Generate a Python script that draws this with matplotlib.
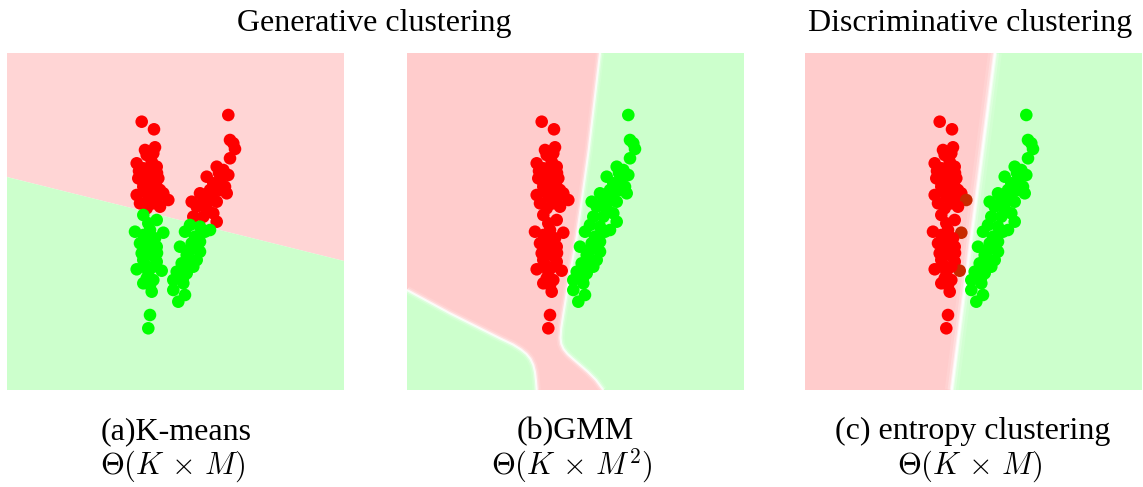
import matplotlib
matplotlib.use("Agg")
import matplotlib.pyplot as plt

plt.rcParams['mathtext.fontset'] = 'cm'

# ---------------- data (panel pixel units, y downward) ----------------
# left cluster, upper part
lu_x = [134.7, 147, 148, 138, 139.7, 146.3, 129.7, 149.7, 136.3, 143, 131.3, 151.3, 139.7,
        146.3, 136.3, 153, 129.7, 143, 156.3, 149.7, 161.3, 133, 146.3, 153, 139.7, 141.3,
        134.7, 144.7, 149.7, 145, 138, 150, 132]
lu_y = [68.7, 76.3, 94.3, 97, 102, 100.3, 110.3, 113.7, 115.3, 120.3, 125.3, 125.3, 128.7,
        130.3, 133.7, 137, 142, 140.3, 140.3, 145.3, 147, 150.3, 150.3, 153.7, 155.3, 143.7,
        127, 108.7, 133.7, 118, 138, 120, 118]
# left cluster, lower part
ll_x = [136.3, 149.7, 141.3, 128, 156.3, 136.3, 148, 133, 149.7, 139.7, 144.7, 136.3, 149.7,
        129.7, 154.7, 141.3, 139.7, 146.3, 136.3, 144.7, 143, 141.3, 143, 144.7, 134.7, 146.3, 143,
        140, 146, 138, 150]
ll_y = [162, 167, 170.3, 178.7, 179.7, 182, 185.3, 190.3, 193.7, 197, 202, 207, 208.7,
        216.3, 217.7, 218.7, 225.3, 227, 230.3, 238.7, 262, 275.3, 177, 188.7, 200.3, 213.7, 232,
        185, 195, 212, 200]
# right cluster, upper part
ru_x = [221.3, 223, 226.3, 228, 223, 209.7, 216.3, 221.3, 199.7, 213, 206.3, 218, 219.7, 193,
        203, 184.7, 196.3, 209.7, 189.7, 199.7, 206.3, 186.3, 196.3, 209.7, 204.7, 213,
        212, 205, 200]
ru_y = [62, 87, 90.3, 96, 105.3, 113.7, 117, 122, 123.7, 127, 130.3, 133.7, 140.3, 140.3,
        137, 148.7, 147, 148.7, 153.7, 155.3, 160.3, 163.7, 163.7, 168.7, 143.7, 137,
        120, 145, 150]
# right cluster, lower part
rl_x = [183, 193, 203, 178, 188, 193, 173, 183, 193, 179.7, 189.7, 174.7, 186.3, 169.7,
        179.7, 166.3, 176.3, 166.3, 178, 171.3, 198, 184.7, 180, 190, 176]
rl_y = [172, 173.7, 177, 178.7, 183.7, 188.7, 193.7, 197, 198.7, 202, 207, 210.3, 213.7, 218.7,
        220.3, 227, 230.3, 237, 242, 248.7, 178.7, 190.3, 210, 195, 225]

# cluster labels per method: 0 = red, 1 = green, 2 = uncertain (mixed)
kmeans_labels = {"lu": [0] * 33, "ll": [1] * 31, "ru": [0] * 29, "rl": [1] * 25}
gmm_labels = {"lu": [0] * 33, "ll": [0] * 31, "ru": [1] * 29, "rl": [1] * 25}
entropy_labels = {"lu": [0] * 20 + [2] + [0] * 12,
                  "ll": [0] * 4 + [2] + [0] * 9 + [2] + [0] * 16,
                  "ru": [1] * 29, "rl": [1] * 25}

# decision-region boundaries (panel pixel units)
km_bound_y = [124, 208]
gmm_main_x = [193, 181.7, 169.7, 161.3, 156.5, 154.2, 153.5, 154.3, 156.5, 160.5, 166, 173, 181, 189, 196.3]
gmm_main_y = [0, 97, 183.7, 230.3, 260, 275, 285, 291, 296, 301, 306, 312, 319, 327, 337]
gmm_left_x = [0, 43, 93, 106, 114, 119.5, 123.5, 126.3, 128, 129, 129.7]
gmm_left_y = [237, 260.3, 285.3, 291.5, 296.5, 301, 306, 312, 319, 328, 337]
ent_bound_x = [190, 146.7]
ent_bound_y = [0, 337]

titles_top = ["Generative clustering", "Discriminative clustering"]
captions = ["(a)K-means", "(b)GMM", "(c) entropy clustering"]
complexities = [r"$\Theta(K\,\times\,M)$", r"$\Theta(K\,\times\,M^2)$", r"$\Theta(K\,\times\,M)$"]

# ---------------- styling ----------------
W, H = 1143, 487
PINK_A = "#ffd5d5"
PINK = "#ffcccc"
GREEN = "#ccffcc"
COLS = {0: "#ff0000", 1: "#00ff00", 2: "#c82a00"}
S = 82
SIZE = 337

fig = plt.figure(figsize=(W / 100, H / 100), dpi=100)
lefts = [7, 407, 805]
axes = []
for l in lefts:
    ax = fig.add_axes([l / W, (H - 390) / H, SIZE / W, SIZE / H])
    ax.set_xlim(0, SIZE)
    ax.set_ylim(SIZE, 0)
    ax.axis("off")
    axes.append(ax)

groups = {"lu": (lu_x, lu_y), "ll": (ll_x, ll_y), "ru": (ru_x, ru_y), "rl": (rl_x, rl_y)}

def scatter(ax, labels):
    xs, ys, cs = [], [], []
    for g in ["lu", "ll", "ru", "rl"]:
        gx, gy = groups[g]
        xs += gx
        ys += gy
        cs += [COLS[k] for k in labels[g]]
    ax.scatter(xs, ys, s=S, c=cs, linewidths=0, zorder=5)

# (a) K-means
ax = axes[0]
ax.fill([0, SIZE, SIZE, 0], [0, 0, km_bound_y[1], km_bound_y[0]], color=PINK_A, lw=0)
ax.fill([0, SIZE, SIZE, 0], [km_bound_y[0], km_bound_y[1], SIZE, SIZE], color=GREEN, lw=0)
scatter(ax, kmeans_labels)

# (b) GMM
ax = axes[1]
ax.fill([0, SIZE, SIZE, 0], [0, 0, SIZE, SIZE], color=PINK, lw=0)
ax.fill(gmm_main_x + [SIZE, SIZE], gmm_main_y + [SIZE, 0], color=GREEN, lw=0)
ax.fill(gmm_left_x + [0], gmm_left_y + [SIZE], color=GREEN, lw=0)
for lw, a in [(6, 0.12), (3.5, 0.3), (1.5, 0.8)]:
    ax.plot(gmm_main_x, gmm_main_y, color="white", lw=lw, alpha=a, solid_capstyle="butt")
    ax.plot(gmm_left_x, gmm_left_y, color="white", lw=lw, alpha=a, solid_capstyle="butt")
scatter(ax, gmm_labels)

# (c) entropy clustering
ax = axes[2]
ax.fill([0, SIZE, SIZE, 0], [0, 0, SIZE, SIZE], color=PINK, lw=0)
ax.fill(ent_bound_x + [SIZE, SIZE], ent_bound_y + [SIZE, 0], color=GREEN, lw=0)
for lw, a in [(10, 0.12), (6, 0.25), (3, 0.5), (1.5, 0.9)]:
    ax.plot(ent_bound_x, ent_bound_y, color="white", lw=lw, alpha=a, solid_capstyle="butt")
scatter(ax, entropy_labels)

serif = ["Liberation Serif", "DejaVu Serif"]
fs = 23
fig.text(374 / W, 1 - 31 / H, titles_top[0], ha="center", va="baseline", family=serif, fontsize=fs)
fig.text(970 / W, 1 - 31 / H, titles_top[1], ha="center", va="baseline", family=serif, fontsize=fs)
centers = [176, 575, 973]
for cx, cap, comp in zip(centers, captions, complexities):
    fig.text(cx / W, 1 - 439 / H, cap, ha="center", va="baseline", family=serif, fontsize=fs)
    fig.text((cx - 3) / W, 1 - 474 / H, comp, ha="center", va="baseline", fontsize=22)

fig.savefig("out.png", dpi=100)
